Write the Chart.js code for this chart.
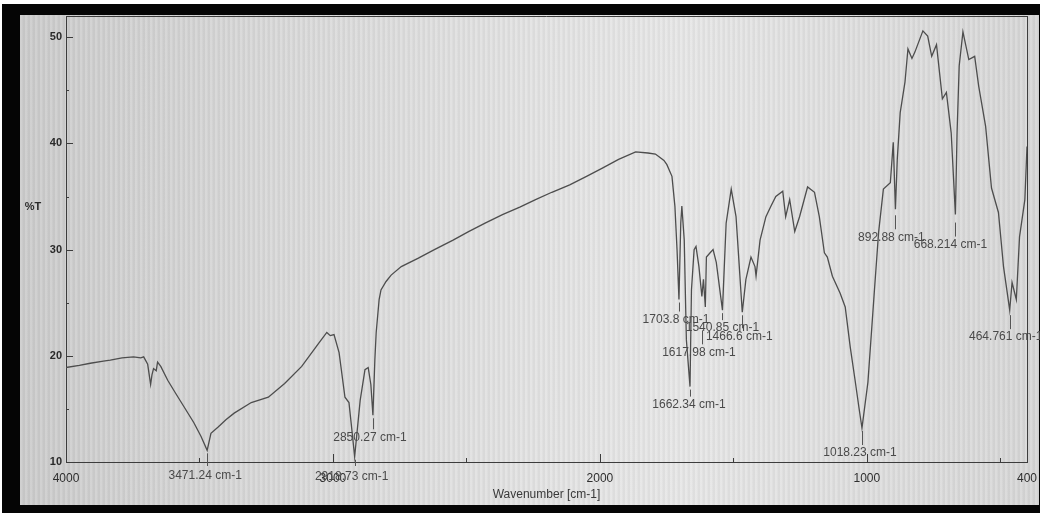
<!DOCTYPE html>
<html>
<head>
<meta charset="utf-8">
<script src="https://cdn.jsdelivr.net/npm/chart.js@4.4.1/dist/chart.umd.min.js"></script>
<style>
  html, body { margin: 0; padding: 0; background: #fff; }
  #wrap { position: relative; width: 1040px; height: 513px; overflow: hidden; background: #fff; }
  #photo {
    position: absolute; left: 2px; top: 4px; width: 1038px; height: 509px;
    box-sizing: border-box; border-style: solid; border-color: #050505;
    border-width: 11px 1px 8px 18px;
    background:
      repeating-linear-gradient(90deg, rgba(255,255,255,0.10) 0px, rgba(255,255,255,0.10) 2px, rgba(0,0,0,0.03) 3px, rgba(0,0,0,0.03) 5px),
      linear-gradient(90deg, #cbcbcb 0%, #d8d8d8 25%, #e2e2e2 50%, #e6e6e6 65%, #d6d6d6 100%);
  }
  #chartBox { position: absolute; left: 0; top: 0; width: 1040px; height: 513px; }
</style>
</head>
<body>
<div id="wrap">
  <div id="photo"></div>
  <div id="chartBox"><canvas id="irChart"></canvas></div>
</div>
<script>
// Spectrum (wavenumber in cm-1, %T)
const wavenumbers = [
  4000, 3950, 3909, 3860, 3834, 3790, 3747, 3720, 3709, 3694, 3683, 3678, 3672, 3662, 3657, 3645,
  3619, 3590, 3558, 3521, 3494, 3471.24, 3457, 3430, 3400, 3370, 3306, 3242, 3181, 3117, 3053, 3023,
  3010, 2996, 2977, 2955, 2940, 2929, 2918.73, 2898, 2880, 2868, 2858, 2850.27, 2843, 2838, 2827, 2820,
  2801, 2782, 2744, 2680, 2620, 2550, 2492, 2430, 2365, 2300, 2241, 2180, 2113, 2050, 1989, 1930,
  1866, 1820, 1792, 1760, 1749, 1730, 1719, 1711, 1703.8, 1697, 1693, 1684, 1676, 1662.34, 1657, 1647,
  1640, 1629, 1617.98, 1612, 1605, 1601, 1587, 1576, 1564, 1540.85, 1527, 1508, 1490, 1466.6, 1453, 1434,
  1419, 1415, 1400, 1378, 1359, 1341, 1315, 1304, 1289, 1270, 1252, 1222, 1196, 1178, 1159, 1148,
  1129, 1100, 1081, 1062, 1044, 1030, 1018.23, 996, 974, 956, 938, 912, 901, 892.88, 886, 875,
  857, 846, 831, 820, 790, 772, 757, 739, 717, 702, 684, 668.214, 662, 654, 640, 618,
  596, 581, 555, 533, 507, 488, 464.761, 456, 440, 428, 408, 400
];
const transmittance = [
  18.9, 19.1, 19.3, 19.5, 19.6, 19.8, 19.9, 19.8, 19.9, 19.2, 17.3, 18.2, 18.8, 18.6, 19.4, 19.0,
  17.7, 16.5, 15.2, 13.7, 12.4, 11.1, 12.7, 13.3, 14.0, 14.6, 15.6, 16.1, 17.4, 19.0, 21.2, 22.2,
  21.9, 22.0, 20.3, 16.1, 15.6, 13.0, 10.5, 15.8, 18.7, 18.9, 17.3, 14.4, 19.6, 22.2, 25.3, 26.2,
  27.0, 27.6, 28.4, 29.2, 30.0, 30.9, 31.7, 32.5, 33.3, 34.0, 34.7, 35.4, 36.1, 36.9, 37.7, 38.5,
  39.2, 39.1, 39.0, 38.4, 38.0, 36.9, 34.1, 30.0, 25.3, 32.5, 34.1, 30.9, 21.5, 17.1, 26.2, 30.0,
  30.3, 28.4, 25.6, 27.2, 24.6, 29.3, 29.7, 30.0, 28.8, 24.3, 32.5, 35.7, 33.1, 24.1, 27.2, 29.3,
  28.4, 27.5, 30.9, 33.1, 34.1, 35.0, 35.5, 33.1, 34.7, 31.7, 33.1, 35.9, 35.4, 33.1, 29.7, 29.3,
  27.5, 25.9, 24.6, 20.8, 17.7, 15.2, 13.2, 17.5, 25.3, 31.6, 35.7, 36.3, 40.1, 33.8, 38.5, 42.9,
  45.8, 48.9, 48.0, 48.6, 50.6, 50.1, 48.2, 49.3, 44.2, 44.8, 41.0, 33.3, 41.0, 47.3, 50.5, 47.9,
  48.2, 45.4, 41.6, 35.8, 33.5, 28.4, 24.3, 26.9, 25.3, 31.2, 34.7, 39.7
];

// Peak picks
const peakWavenumbers = [3471.24, 2918.73, 2850.27, 1703.8, 1662.34, 1617.98, 1540.85, 1466.6, 1018.23, 892.88, 668.214, 464.761];
const peakLabels = ['3471.24 cm-1', '2918.73 cm-1', '2850.27 cm-1', '1703.8 cm-1', '1662.34 cm-1', '1617.98 cm-1',
  '1540.85 cm-1', '1466.6 cm-1', '1018.23 cm-1', '892.88 cm-1', '668.214 cm-1', '464.761 cm-1'];

// Axis ticks
const xTickValues = [4000, 3500, 3000, 2500, 2000, 1500, 1000, 500, 400];
const xTickLabels = [4000, 3000, 2000, 1000, 400];
const yTickValues = [10, 20, 30, 40, 50];
const yMinorTicks = [15, 25, 35, 45];

// label placement relative to the peak (pixels)
const labelShift = [[-2, 25], [-3, 20], [-3, 22], [-3, 20], [-1, 18], [-3, 56], [0, 18], [-3, 24], [-2, 25], [-4, 28], [-5, 30], [-4, 27]];

const ink = '#3c3c3c';

const spectrumExtras = {
  id: 'spectrumExtras',
  afterDraw(chart) {
    const ctx = chart.ctx;
    const a = chart.chartArea;
    const xs = chart.scales.x, ys = chart.scales.y;
    ctx.save();
    ctx.strokeStyle = ink;
    ctx.lineWidth = 1;
    // top and right frame
    ctx.beginPath();
    ctx.moveTo(a.left, a.top + 0.5); ctx.lineTo(a.right + 0.5, a.top + 0.5);
    ctx.moveTo(a.right + 0.5, a.top); ctx.lineTo(a.right + 0.5, a.bottom);
    ctx.stroke();
    // inner ticks on x axis
    ctx.beginPath();
    xTickValues.forEach(v => {
      const px = Math.round(xs.getPixelForValue(v)) + 0.5;
      const len = (v % 1000 === 0) ? 8 : 4;
      ctx.moveTo(px, a.bottom); ctx.lineTo(px, a.bottom - len);
    });
    // inner ticks on y axis
    yTickValues.forEach(v => {
      const py = Math.round(ys.getPixelForValue(v)) + 0.5;
      ctx.moveTo(a.left, py); ctx.lineTo(a.left + 7, py);
    });
    yMinorTicks.forEach(v => {
      const py = Math.round(ys.getPixelForValue(v)) + 0.5;
      ctx.moveTo(a.left, py); ctx.lineTo(a.left + 3, py);
    });
    ctx.stroke();

    // peak labels
    ctx.font = '12px "Liberation Sans", Arial, sans-serif';
    ctx.textAlign = 'center';
    ctx.textBaseline = 'middle';
    ctx.strokeStyle = '#555';
    peakWavenumbers.forEach((wn, i) => {
      const t = transmittance[wavenumbers.indexOf(wn)];
      const px = xs.getPixelForValue(wn);
      const py = ys.getPixelForValue(t);
      const tx = px + labelShift[i][0];
      const ty = py + labelShift[i][1];
      const lineTop = Math.max(py + 3, ty - 22);
      const lineBot = Math.min(ty - 8, a.bottom + 4);
      if (lineBot > lineTop) {
        ctx.beginPath();
        ctx.moveTo(Math.round(px) + 0.5, lineTop);
        ctx.lineTo(Math.round(px) + 0.5, lineBot);
        ctx.stroke();
      }
      ctx.fillStyle = '#4a4a4a';
      ctx.fillText(peakLabels[i], tx, ty);
    });

    // %T caption
    ctx.font = 'bold 11px "Liberation Sans", Arial, sans-serif';
    ctx.fillStyle = '#2a2a2a';
    ctx.textAlign = 'center';
    ctx.fillText('%T', a.left - 33, ys.getPixelForValue(34));
    ctx.restore();
  }
};

const ctx = document.getElementById('irChart').getContext('2d');
const irChart = new Chart(ctx, {
  type: 'line',
  data: {
    datasets: [{
      data: wavenumbers.map((w, i) => ({ x: w, y: transmittance[i] })),
      borderColor: '#4d4d4d',
      borderWidth: 1.3,
      pointRadius: 0,
      tension: 0,
      fill: false
    }]
  },
  options: {
    responsive: true,
    maintainAspectRatio: false,
    animation: false,
    layout: { padding: { top: 16, right: 13, left: 0, bottom: 0 } },
    plugins: {
      legend: { display: false },
      tooltip: { enabled: false }
    },
    scales: {
      x: {
        type: 'linear',
        reverse: true,
        min: 400,
        max: 4000,
        afterBuildTicks: scale => { scale.ticks = xTickValues.map(v => ({ value: v })); },
        afterFit: scale => { scale.height = 51; scale.paddingLeft = 0; scale.paddingRight = 0; },
        grid: { display: false, drawTicks: false },
        border: { display: true, color: ink, width: 1 },
        ticks: {
          autoSkip: false,
          maxRotation: 0,
          padding: 9,
          color: '#2e2e2e',
          font: { family: '"Liberation Sans", Arial, sans-serif', size: 12 },
          callback: v => xTickLabels.includes(v) ? String(v) : ''
        },
        title: {
          display: true,
          text: 'Wavenumber [cm-1]',
          color: '#3a3a3a',
          padding: { top: 0, bottom: 11 },
          font: { family: '"Liberation Sans", Arial, sans-serif', size: 12 }
        }
      },
      y: {
        min: 10,
        max: 52,
        afterBuildTicks: scale => { scale.ticks = yTickValues.map(v => ({ value: v })); },
        afterFit: scale => { scale.width = 66; },
        grid: { display: false, drawTicks: false },
        border: { display: true, color: ink, width: 1 },
        ticks: {
          padding: 4,
          color: '#2a2a2a',
          font: { family: '"Liberation Sans", Arial, sans-serif', size: 11, weight: 'bold' }
        }
      }
    }
  },
  plugins: [spectrumExtras]
});
</script>
</body>
</html>
